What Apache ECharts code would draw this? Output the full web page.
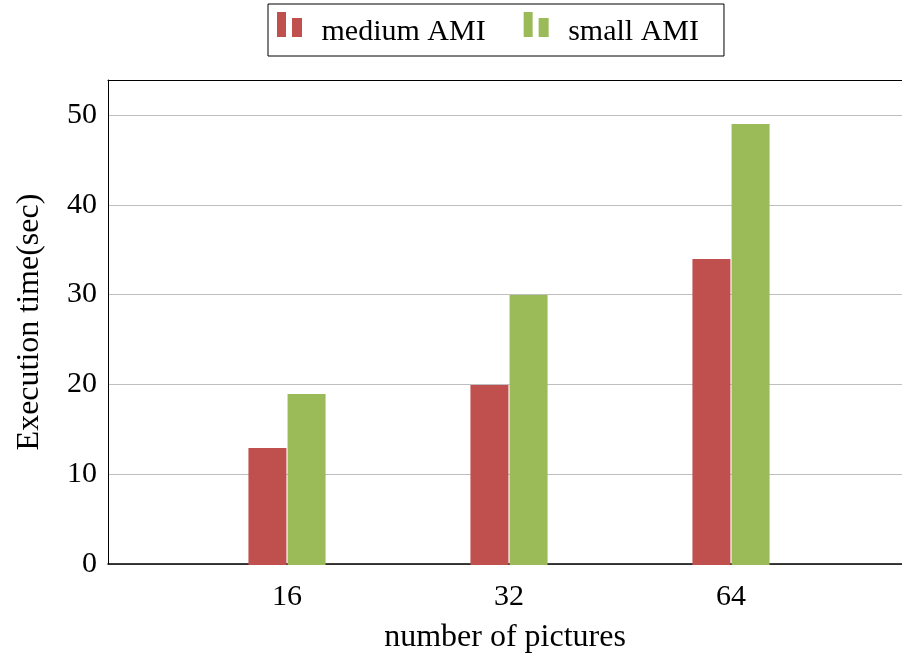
<!DOCTYPE html>
<html>
<head>
<meta charset="utf-8">
<script src="https://cdn.jsdelivr.net/npm/echarts@6/dist/echarts.min.js"></script>
<style>html,body{margin:0;padding:0;background:#fff}#c{width:902px;height:659px}</style>
</head>
<body>
<div id="c"></div>
<script>
const categories = ['16', '32', '64'];
const mediumAMI = [13, 20, 34];
const smallAMI = [19, 30, 49];
const seriesNames = ['medium AMI', 'small AMI'];
const xTitle = 'number of pictures';
const yTitle = 'Execution time(sec)';

const FONT = 'Liberation Serif';
const RED = '#C0504D';
const GREEN = '#9BBB59';
// two small bars; the lone trailing moveTo extends the icon box downward so the text sits lower
const icon = 'path://M0,0h9v25h-9z M15,6h10v19h-10z M0,41';

const chart = echarts.init(document.getElementById('c'), null, {renderer: 'canvas'});
chart.setOption({
  animation: false,
  backgroundColor: '#fff',
  textStyle: {fontFamily: FONT, color: '#000'},
  legend: {
    left: 268, top: 4,
    padding: [8, 25, 3, 9],
    itemGap: 38,
    itemWidth: 26, itemHeight: 41,
    borderColor: '#000', borderWidth: 1,
    icon: icon,
    textStyle: {fontFamily: FONT, fontSize: 30, color: '#000', padding: [0, 0, 0, 14]},
    data: seriesNames
  },
  grid: [
    {left: 108, right: -8, top: 80, bottom: 94, show: false},
    {left: 176, right: 60, top: 80, bottom: 94}
  ],
  xAxis: [
    {
      type: 'value', gridIndex: 0, min: 0, max: 1, position: 'bottom',
      axisLine: {show: true, lineStyle: {color: '#000', width: 1.5}},
      axisTick: {show: false}, axisLabel: {show: false}, splitLine: {show: false},
      name: xTitle, nameLocation: 'middle', nameGap: 58,
      nameTextStyle: {fontFamily: FONT, fontSize: 32, color: '#000'}
    },
    {
      type: 'value', gridIndex: 0, min: 0, max: 1, position: 'top',
      axisLine: {show: true, lineStyle: {color: '#000', width: 1}},
      axisTick: {show: false}, axisLabel: {show: false}, splitLine: {show: false}
    },
    {
      type: 'category', gridIndex: 1, data: categories,
      axisLine: {show: false}, axisTick: {show: false},
      axisLabel: {fontFamily: FONT, fontSize: 30, color: '#000', margin: 17}
    }
  ],
  yAxis: [
    {
      type: 'value', gridIndex: 0, min: 0, max: 53.9, interval: 10,
      axisLine: {show: true, lineStyle: {color: '#000', width: 1}},
      axisTick: {show: false},
      axisLabel: {fontFamily: FONT, fontSize: 30, color: '#000', margin: 11, showMaxLabel: false},
      splitLine: {show: true, lineStyle: {color: '#BFBFBF', width: 1}},
      name: yTitle, nameLocation: 'middle', nameGap: 62,
      nameTextStyle: {fontFamily: FONT, fontSize: 32, color: '#000'}
    },
    {
      type: 'value', gridIndex: 1, min: 0, max: 53.9, show: false
    }
  ],
  series: [
    {name: seriesNames[0], type: 'bar', xAxisIndex: 2, yAxisIndex: 1, data: mediumAMI,
     barWidth: 38, barGap: '3%', itemStyle: {color: RED}, z: 3},
    {name: seriesNames[1], type: 'bar', xAxisIndex: 2, yAxisIndex: 1, data: smallAMI,
     barWidth: 38, itemStyle: {color: GREEN}, z: 3}
  ]
});
</script>
</body>
</html>
